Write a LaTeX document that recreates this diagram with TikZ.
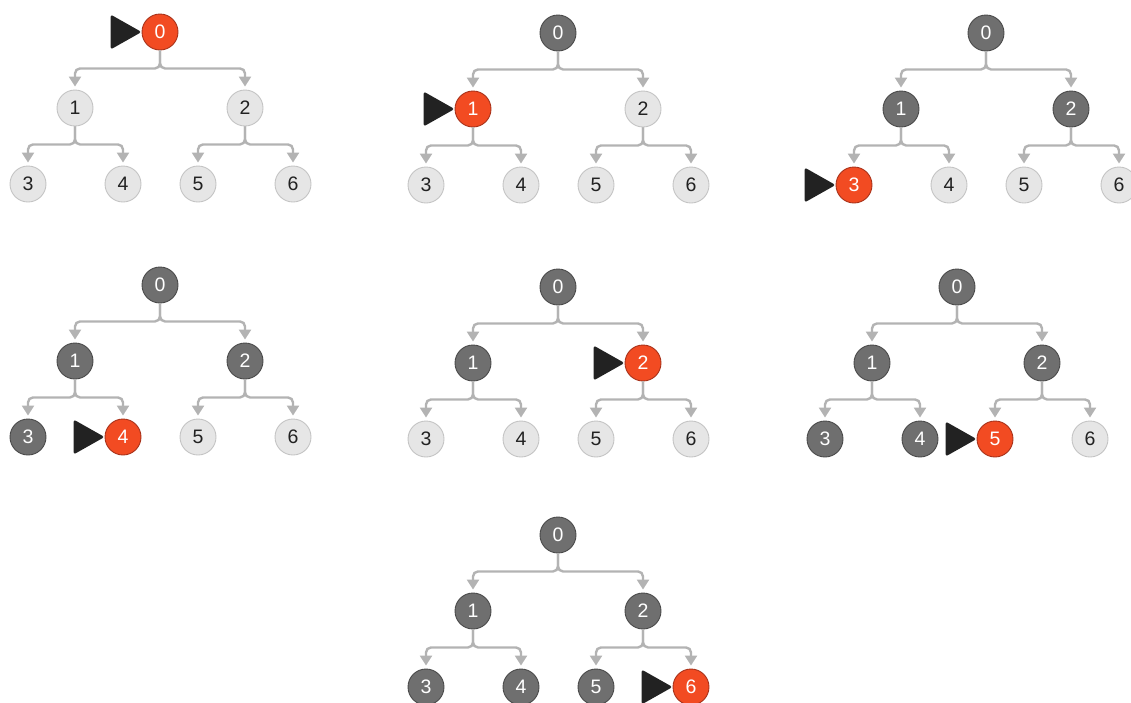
\documentclass[tikz,border=0pt]{standalone}
\usepackage{fontspec}
\setmainfont{Liberation Sans}
\usetikzlibrary{arrows.meta}

\definecolor{visitred}{HTML}{F24B22}
\definecolor{visitedge}{HTML}{A8321A}
\definecolor{donefill}{HTML}{6F6F6F}
\definecolor{doneedge}{HTML}{4A4A4A}
\definecolor{todofill}{HTML}{E6E6E6}
\definecolor{todoedge}{HTML}{C4C4C4}
\definecolor{linkgray}{HTML}{B3B3B3}
\definecolor{ink}{HTML}{222222}

\tikzset{
  vnode/.style={circle,minimum size=36pt,inner sep=0pt,line width=0.9pt,
    font=\fontsize{19.5}{19.5}\selectfont},
  done/.style={vnode,fill=donefill,draw=doneedge,text=white},
  cur/.style={vnode,fill=visitred,draw=visitedge,text=white},
  todo/.style={vnode,fill=todofill,draw=todoedge,text=ink},
  link/.style={draw=linkgray,line width=2.4pt,rounded corners=5pt,
    shorten >=3pt,-{Triangle[width=12pt,length=10pt]}},
  pointer/.style={fill=ink,rounded corners=2.5pt},
}

% one BFS step: tree at (#2,#3), node #4 is the one being visited
\newcommand{\bfsstep}[4]{%
  \begin{scope}[shift={(#2,#3)}]
    \foreach \i/\px/\py in {0/0/0,1/-85/76,2/85/76,3/-132/152,4/-37/152,5/38/152,6/133/152}{
      \ifnum\i<#4 \def\st{done}\else\ifnum\i=#4 \def\st{cur}\else\def\st{todo}\fi\fi
      \node[\st] (#1-\i) at (\px,\py) {\i};
    }
    % parent -> children
    \foreach \p/\a/\b in {0/1/2,1/3/4,2/5/6}{
      \draw[link] (#1-\p.south) -- ++(0,18) -| (#1-\a.north);
      \draw[link] (#1-\p.south) -- ++(0,18) -| (#1-\b.north);
    }
    % current position marker
    \fill[pointer] (#1-#4.west) -- ++(-31,-17.5) -- ++(0,35) -- cycle;
  \end{scope}}

\begin{document}
\begin{tikzpicture}[x=1pt,y=-1pt]
\useasboundingbox (0,0) rectangle (1131,702);
% first row
\bfsstep{s0}{160}{32}{0}
\bfsstep{s1}{558}{33}{1}
\bfsstep{s2}{986}{33}{3}
% second row
\bfsstep{s3}{160}{285}{4}
\bfsstep{s4}{558}{287}{2}
\bfsstep{s5}{957}{287}{5}
% last one
\bfsstep{s6}{558}{535}{6}
\end{tikzpicture}
\end{document}
